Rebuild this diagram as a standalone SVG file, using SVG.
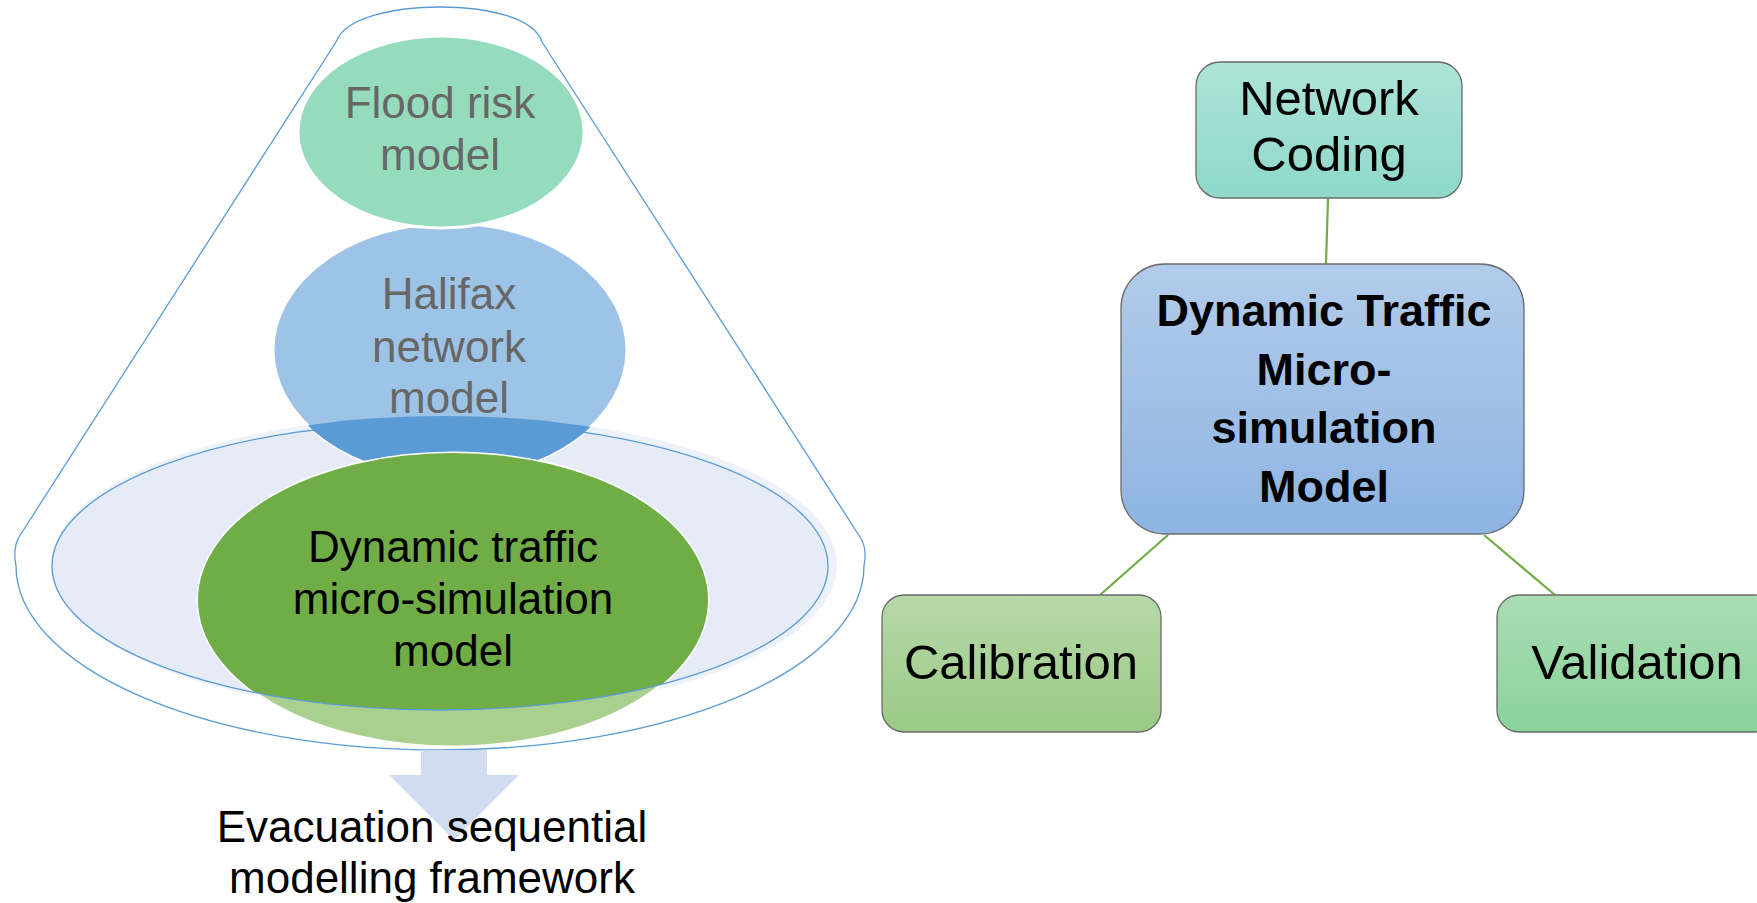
<svg xmlns="http://www.w3.org/2000/svg" width="1757" height="903" viewBox="0 0 1757 903">
  <defs>
    <linearGradient id="gNet" x1="0" y1="0" x2="0" y2="1">
      <stop offset="0" stop-color="#AEE3D9"/>
      <stop offset="1" stop-color="#8DD9CA"/>
    </linearGradient>
    <linearGradient id="gMain" x1="0" y1="0" x2="0" y2="1">
      <stop offset="0" stop-color="#B2CCEA"/>
      <stop offset="1" stop-color="#8EB4E2"/>
    </linearGradient>
    <linearGradient id="gCal" x1="0" y1="0" x2="0" y2="1">
      <stop offset="0" stop-color="#B7D8A9"/>
      <stop offset="1" stop-color="#9BCA85"/>
    </linearGradient>
    <linearGradient id="gVal" x1="0" y1="0" x2="0" y2="1">
      <stop offset="0" stop-color="#AADCB3"/>
      <stop offset="1" stop-color="#8AD39B"/>
    </linearGradient>
    <clipPath id="clipFill">
      <ellipse cx="444" cy="565" rx="393" ry="149"/>
    </clipPath>
    <clipPath id="clipRing">
      <ellipse cx="440" cy="566" rx="388" ry="144"/>
    </clipPath>
    <style>
      .lbl { font-family: "Liberation Sans", Arial, sans-serif; text-anchor: middle; }
      .left { font-size: 44px; }
      .grey { fill: #676767; }
      .dark { fill: #000000; }
      .box { font-size: 49px; fill: #000000; }
      .bold { font-size: 45px; font-weight: bold; fill: #000000; }
      .edge { stroke: #70AD47; stroke-width: 2.2; fill: none; }
      .card { stroke: #6A6A6A; stroke-width: 1.3; }
      .bubble { stroke: #FFFFFF; stroke-width: 3; }
    </style>
  </defs>

  <rect width="1757" height="903" fill="#FFFFFF"/>

  <!-- Left: nested model funnel -->
  <g id="funnel-base">
    <ellipse cx="444" cy="565" rx="393" ry="149" fill="#EDF2FA"/>
    <ellipse cx="440" cy="566" rx="388" ry="144" fill="#E5ECF7"/>
  </g>

  <g id="halifax-network-model">
    <ellipse class="bubble" cx="450" cy="350" rx="177" ry="127" fill="#9DC3E6"/>
    <ellipse cx="450" cy="350" rx="177" ry="127" fill="#5B9BD5" clip-path="url(#clipFill)"/>
    <text class="lbl left grey" x="449" y="309">Halifax</text>
    <text class="lbl left grey" x="449" y="362">network</text>
    <text class="lbl left grey" x="449" y="413">model</text>
  </g>

  <g id="flood-risk-model">
    <ellipse class="bubble" cx="441" cy="132" rx="143" ry="96" fill="#95DCBC"/>
    <text class="lbl left grey" x="440" y="118">Flood risk</text>
    <text class="lbl left grey" x="440" y="170">model</text>
  </g>

  <g id="dynamic-traffic-model">
    <ellipse class="bubble" cx="453" cy="600" rx="255" ry="147" fill="#A9D08E"/>
    <ellipse cx="453" cy="600" rx="255" ry="147" fill="#70AD47" clip-path="url(#clipRing)"/>
    <ellipse cx="440" cy="566" rx="388" ry="144" fill="none" stroke="#5B9BD5" stroke-width="1.3"/>
    <text class="lbl left dark" x="453" y="562">Dynamic traffic</text>
    <text class="lbl left dark" x="453" y="614">micro-simulation</text>
    <text class="lbl left dark" x="453" y="666">model</text>
  </g>

  <g id="funnel-outline">
    <path d="M336,42 C345,17 395,7 440,7 C486,7 534,17 542,42 L860,537 C866,546 866,556 864,566 A424,184 0 0 1 16,566 C14,556 14,546 19,537 Z" fill="none" stroke="#5B9BD5" stroke-width="1.3"/>
  </g>

  <g id="output-arrow">
    <path d="M421,750 L487,750 L487,775 L519,775 L454,840 L389,775 L421,775 Z" fill="#D0DCEF"/>
  </g>

  <g id="evacuation-framework">
    <text class="lbl left dark" x="432" y="842">Evacuation sequential</text>
    <text class="lbl left dark" x="432" y="893">modelling framework</text>
  </g>

  <!-- Right: model components -->
  <g id="connectors">
    <line class="edge" x1="1328" y1="198" x2="1326" y2="264"/>
    <line class="edge" x1="1168" y1="535" x2="1100" y2="595"/>
    <line class="edge" x1="1484" y1="535" x2="1555" y2="595"/>
  </g>

  <g id="network-coding">
    <rect class="card" x="1196" y="62" width="266" height="136" rx="24" fill="url(#gNet)"/>
    <text class="lbl box" x="1329" y="115">Network</text>
    <text class="lbl box" x="1329" y="171">Coding</text>
  </g>

  <g id="traffic-model">
    <rect class="card" x="1121" y="264" width="403" height="270" rx="44" fill="url(#gMain)"/>
    <text class="lbl bold" x="1324" y="326">Dynamic Traffic</text>
    <text class="lbl bold" x="1324" y="385">Micro-</text>
    <text class="lbl bold" x="1324" y="443">simulation</text>
    <text class="lbl bold" x="1324" y="502">Model</text>
  </g>

  <g id="calibration">
    <rect class="card" x="882" y="595" width="279" height="137" rx="22" fill="url(#gCal)"/>
    <text class="lbl box" x="1021" y="679">Calibration</text>
  </g>

  <g id="validation">
    <rect class="card" x="1497" y="595" width="279" height="137" rx="22" fill="url(#gVal)"/>
    <text class="lbl box" x="1637" y="679">Validation</text>
  </g>
</svg>
